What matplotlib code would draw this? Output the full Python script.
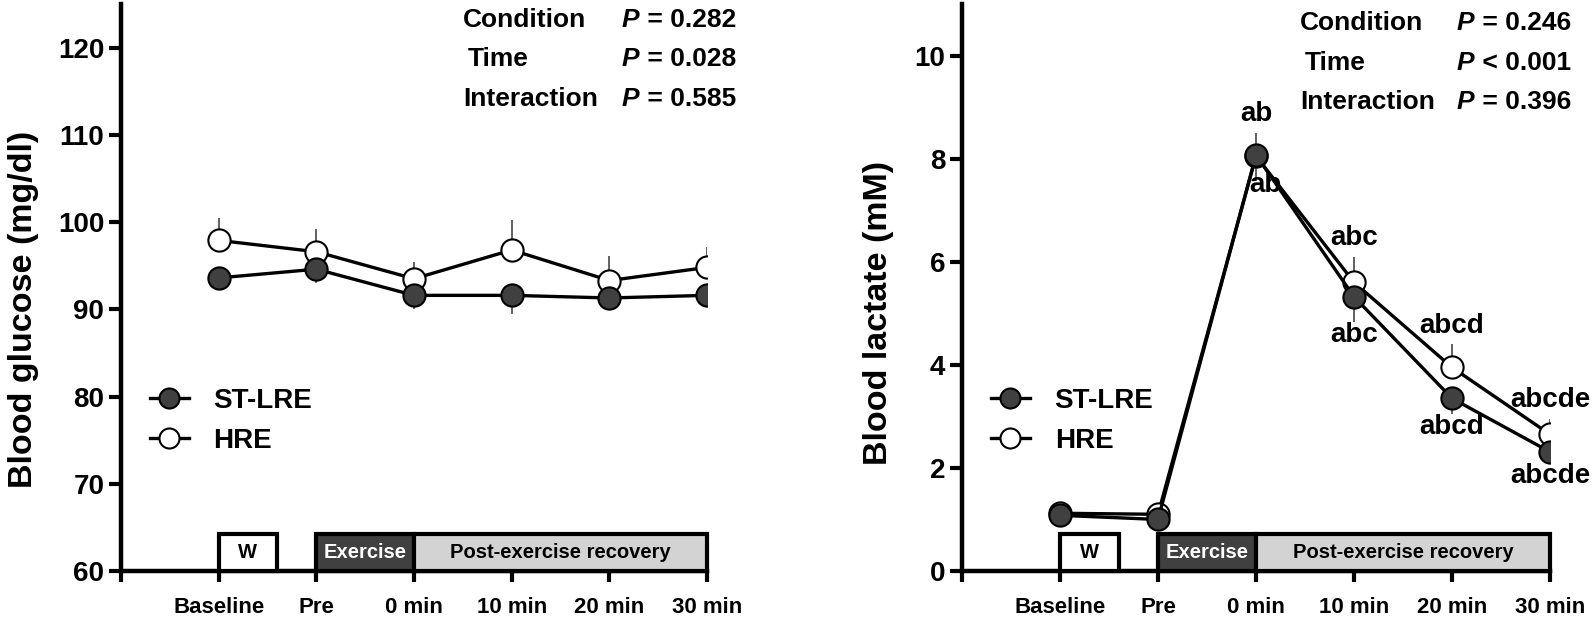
import numpy as np
import matplotlib
matplotlib.use("Agg")
import matplotlib.pyplot as plt
from matplotlib.patches import Rectangle
import matplotlib.transforms as mtransforms

plt.rcParams['font.family'] = ['Liberation Sans', 'DejaVu Sans']
plt.rcParams['font.weight'] = 'bold'

# Time points
timepoints = ["Baseline", "Pre", "0 min", "10 min", "20 min", "30 min"]

# Blood glucose (mg/dl)
glu_st = [93.6, 94.6, 91.6, 91.6, 91.3, 91.6]
glu_st_err = [0.8, 1.6, 1.6, 2.1, 0.8, 1.3]
glu_hre = [97.9, 96.6, 93.5, 96.8, 93.3, 94.8]
glu_hre_err = [2.6, 2.6, 1.9, 3.4, 2.8, 2.4]

# Blood lactate (mM)
lac_st = [1.08, 1.00, 8.07, 5.32, 3.35, 2.31]
lac_st_err = [0.1, 0.1, 0.5, 0.48, 0.3, 0.22]
lac_hre = [1.12, 1.10, 8.05, 5.60, 3.95, 2.65]
lac_hre_err = [0.1, 0.1, 0.45, 0.5, 0.45, 0.3]

# significance letters (above = HRE, below = ST-LRE)
lac_sig_hre = ["", "", "ab", "abc", "abcd", "abcde"]
lac_sig_st = ["", "", "ab", "abc", "abcd", "abcde"]

# ANOVA results
glu_stats = [("Condition", "= 0.282"), ("Time", "= 0.028"), ("Interaction", "= 0.585")]
lac_stats = [("Condition", "= 0.246"), ("Time", "< 0.001"), ("Interaction", "= 0.396")]

W, H = 1594, 624
fig = plt.figure(figsize=(W / 100, H / 100), dpi=100)

ax1 = fig.add_axes([121 / W, 1 - 571 / H, 586 / W, 567 / H])
ax2 = fig.add_axes([962 / W, 1 - 571 / H, 588 / W, 567 / H])

x = np.arange(len(timepoints))


def draw_panel(ax, st, st_err, hre, hre_err, ylim, yticks, ylabel, ylab_x, ylab_y):
    # one-sided error bars
    ax.errorbar(x, hre, yerr=[np.zeros(len(x)), hre_err], fmt='none',
                ecolor='#555555', elinewidth=1.3, capsize=0, zorder=2)
    ax.errorbar(x, st, yerr=[st_err, np.zeros(len(x))], fmt='none',
                ecolor='#555555', elinewidth=1.3, capsize=0, zorder=2)
    l_hre, = ax.plot(x, hre, '-o', color='black', lw=2.4, ms=16,
                     mfc='white', mec='black', mew=1.5, zorder=3, label='HRE')
    l_st, = ax.plot(x, st, '-o', color='black', lw=2.4, ms=16,
                    mfc='#404040', mec='black', mew=1.5, zorder=4, label='ST-LRE')

    ax.set_xlim(-1, 5)
    ax.set_ylim(*ylim)
    ax.set_yticks(yticks)
    ax.set_xticks(np.arange(-1, 6))
    ax.set_xticklabels([""] + timepoints, fontsize=16)
    ax.tick_params(axis='y', labelsize=20, width=3, length=9, pad=3)
    ax.tick_params(axis='x', width=3, length=8, pad=11)
    for s in ['top', 'right']:
        ax.spines[s].set_visible(False)
    for s in ['left', 'bottom']:
        ax.spines[s].set_linewidth(3.2)
    ax.set_ylabel(ylabel, fontsize=24.5, fontweight='bold')
    ax.yaxis.set_label_coords(ylab_x, ylab_y)

    ax.legend(handles=[l_st, l_hre], loc='upper left',
              bbox_to_anchor=(0.03, 0.343), frameon=False, fontsize=20,
              handlelength=1.4, handletextpad=0.9, labelspacing=0.52,
              borderaxespad=0.0, markerscale=0.9)

    # protocol boxes along the x axis
    trans = mtransforms.blended_transform_factory(ax.transData, ax.transAxes)
    bh = 0.066
    boxes = [(0, 0.6, 'white', 'W', 'black'),
             (1, 1, '#404040', 'Exercise', 'white'),
             (2, 3, '#d3d3d3', 'Post-exercise recovery', 'black')]
    for x0, w, fc, txt, tc in boxes:
        ax.add_patch(Rectangle((x0, 0), w, bh, transform=trans, facecolor=fc,
                               edgecolor='black', lw=3, clip_on=False, zorder=5))
        ax.text(x0 + w / 2, bh / 2, txt, transform=trans, ha='center',
                va='center', fontsize=14.5, color=tc, fontweight='bold', zorder=6)


draw_panel(ax1, glu_st, glu_st_err, glu_hre, glu_hre_err, (60, 125),
           [60, 70, 80, 90, 100, 110, 120], "Blood glucose (mg/dl)", -0.14, 30 / 65)
draw_panel(ax2, lac_st, lac_st_err, lac_hre, lac_hre_err, (0, 11),
           [0, 2, 4, 6, 8, 10], "Blood lactate (mM)", -0.115, 5 / 11)

# significance letters
for i in range(len(x)):
    if lac_sig_hre[i]:
        ax2.annotate(lac_sig_hre[i], (x[i], lac_hre[i] + lac_hre_err[i]),
                     xytext=(0, 4), textcoords='offset points', ha='center',
                     va='bottom', fontsize=20, fontweight='bold',
                     annotation_clip=False)
    if lac_sig_st[i]:
        off = (7, 6) if i == 2 else (0, 0)
        ax2.annotate(lac_sig_st[i], (x[i], lac_st[i] - lac_st_err[i]),
                     xytext=off, textcoords='offset points', ha='center',
                     va='top', fontsize=20, fontweight='bold',
                     annotation_clip=False)

# statistics text
for (name_x, p_x, y0), stats in [((463, 622, 20), glu_stats),
                                  ((1300, 1457, 23), lac_stats)]:
    for k, (name, pv) in enumerate(stats):
        yy = 1 - (y0 + 39.5 * k) / H
        nx = name_x + (5 if name == "Time" else 0)
        fig.text(nx / W, yy, name, fontsize=19, fontweight='bold', va='center')
        fig.text(p_x / W, yy, "P", fontsize=19, fontweight='bold',
                 fontstyle='italic', va='center')
        fig.text((p_x + 18) / W, yy, " " + pv, fontsize=19, fontweight='bold',
                 va='center')

fig.savefig("out.png", dpi=100)
